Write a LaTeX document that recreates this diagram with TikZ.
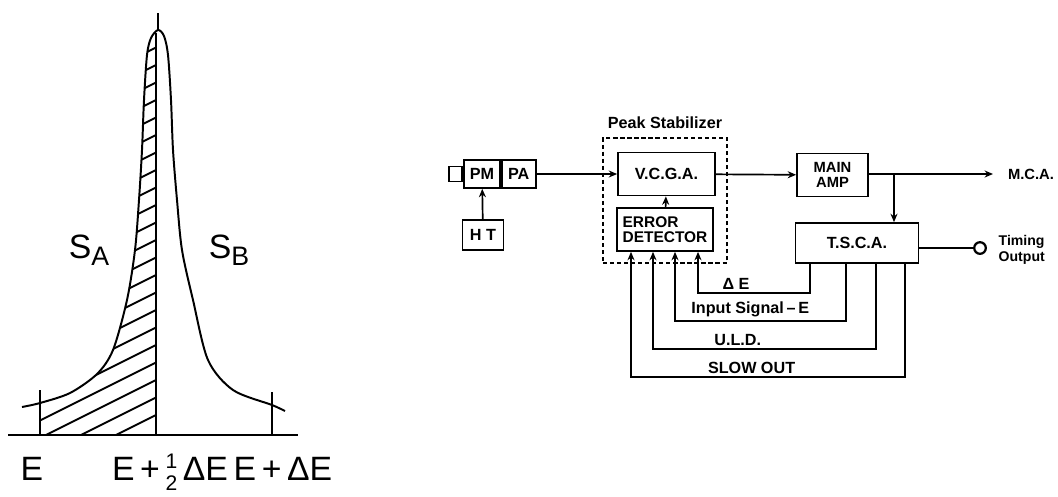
\documentclass[tikz,border=0pt]{standalone}
\usepackage{fontspec}
\setmainfont{Liberation Sans}
\usetikzlibrary{arrows.meta, positioning}

\begin{document}
\begin{tikzpicture}[
        % one unit is one pixel of the 1058x496 page
        x=0.025cm, y=-0.025cm,
        % lines and arrows of the block diagram
        wire/.style={line width=1.2pt},
        sig/.style={wire, -{Stealth[length=6pt, width=5pt]}},
        % style for the blocks
        blk/.style={rectangle, draw, line width=1.2pt, inner sep=1pt, align=center, minimum height=1.075cm, font=\fontsize{11.5}{12}\selectfont\bfseries},
        lbl/.style={inner sep=1pt, font=\fontsize{11.5}{12}\selectfont\bfseries},
        % large hand lettering of the peak plot
        big/.style={inner sep=0pt, font=\fontsize{24}{26}\selectfont}
    ]
    \useasboundingbox (0,0) rectangle (1058,496);

    % --- PEAK ---
    \begin{scope}
        \clip (40,0) rectangle (156,435);
        \clip plot[smooth] coordinates {(22,407) (40,403) (70,393) (97,374) (113,350) (127,300) (135,250) (139,200) (142,150) (144,100) (147,55) (151,38) (158,30)} -- (158,435) -- (22,435) -- cycle;
        \foreach \k in {0,...,22}
            \draw[line width=1.3pt] (40,415-17.5*\k+58) -- (156,415-17.5*\k);
    \end{scope}
    \draw[line width=1.4pt] plot[smooth] coordinates {(22,407) (40,403) (70,393) (97,374) (113,350) (127,300) (135,250) (139,200) (142,150) (144,100) (147,55) (151,38) (158,30) (164,36) (168,55) (171,100) (173,150) (177,200) (182,250) (193,300) (208,360) (233,390) (272,405) (285,411)};
    \draw[line width=1.4pt] (8,435) -- (298,435);
    \draw[line width=1.4pt] (40,390) -- (40,435);
    \draw[line width=1.4pt] (272,392) -- (272,435);
    \draw[line width=1.4pt] (156,33) -- (156,435);
    \draw[line width=1.4pt] (158,13) -- (158,30);

    \node[big] (sa) at (89,250) {S\raisebox{-0.2em}{\fontsize{19}{19}\selectfont A}};
    \node[big] (sb) at (229,250) {S\raisebox{-0.2em}{\fontsize{19}{19}\selectfont B}};
    \node[big, anchor=base] (e0) at (32,480) {E};
    \node[big, anchor=base] (eh) at (170,480) {E\,+\,\raisebox{-0.3em}{\shortstack{\fontsize{15}{13}\selectfont 1\\[2pt]\fontsize{15}{13}\selectfont 2}}\,ΔE};
    \node[big, anchor=base] (e1) at (283,480) {E\,+\,ΔE};

    % --- BLOCK DIAGRAM ---
    \node (pm) [blk, minimum width=0.9cm, minimum height=0.7cm] at (482,174) {PM};
    \node (pa) [blk, minimum width=0.85cm, minimum height=0.7cm, right=0pt of pm] {PA};
    \node (win) [draw, line width=1.2pt, minimum width=0.33cm, minimum height=0.38cm, inner sep=0pt, left=0pt of pm] {};
    \node (ht) [blk, minimum width=1.025cm, minimum height=0.75cm] at (483,235) {H T};

    \node (stab) [draw, line width=1.3pt, dash pattern=on 3pt off 2pt, minimum width=3.1cm, minimum height=3.125cm] at (665,200.5) {};
    \node (stabtxt) [lbl, above=0.18cm of stab] {Peak Stabilizer};
    \node (vcga) [blk, minimum width=2.425cm] at (666.5,174) {V.C.G.A.};
    \node (ed) [blk, minimum width=2.4cm, align=left, font=\fontsize{11}{11}\selectfont\bfseries] at (665,229.5) {ERROR\\DETECTOR};

    \node (amp) [blk, minimum width=1.775cm, font=\fontsize{10.5}{11}\selectfont\bfseries] at (832.5,175) {MAIN\\AMP};
    \node (tsca) [blk, minimum width=3.075cm, minimum height=1cm] at (857,243) {T.S.C.A.};
    \node (mca) [lbl, font=\fontsize{10.5}{11}\selectfont\bfseries] at (1031,174) {M.C.A.};
    \node (tout) [circle, draw, line width=1.6pt, minimum size=0.29cm, inner sep=0pt] at (980,248) {};
    \node (timing) [lbl, align=left, anchor=west, font=\fontsize{10}{11}\selectfont\bfseries] at (997,250) {Timing\\Output};

    \coordinate (mcaend) at (993,174);
    \coordinate (br) at (894,174);

    \draw[sig] (pa) -- (vcga);
    \draw[sig] (ht) -- (pm);
    \draw[sig] (ed) -- (vcga);
    \draw[sig] (vcga) -- (amp);
    \draw[sig] (amp.east |- br) -- (mcaend);
    \draw[sig] (br) -- (br |- tsca.north);
    \draw[wire] (tsca.east |- tout) -- (tout);

    % feedback from T.S.C.A. to the error detector
    \foreach \ts/\es/\dd/\p/\txt in {-1.175/0.825/29/0.33/{Δ E}, -0.275/0.25/57/0.28/{Input Signal\,--\,E}, 0.475/-0.3/85/0.31/{U.L.D.}, 1.2/-0.85/113/0.28/{SLOW OUT}}
        \draw[sig] ([xshift=\ts cm]tsca.south) -- ++(0,\dd) -| node[lbl, pos=\p, above=1pt] {\txt} ([xshift=\es cm]ed.south);

\end{tikzpicture}
\end{document}
